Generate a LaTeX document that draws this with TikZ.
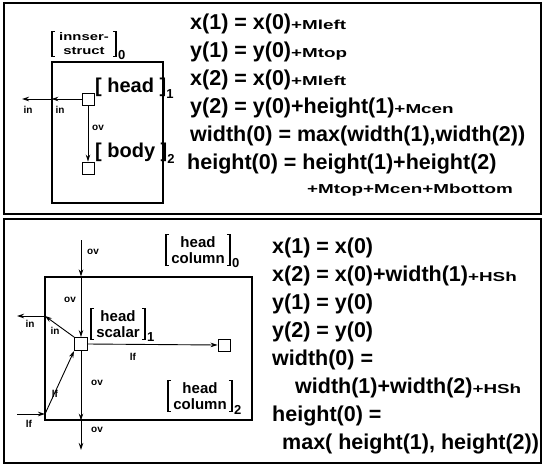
\documentclass[tikz,border=0pt]{standalone}
\usepackage{fontspec}
\setmainfont{Liberation Sans}
\usepackage{graphicx}
\usetikzlibrary{arrows.meta}

% small heavy terms (margins, spacing)
\newcommand{\mterm}[1]{{\fontsize{13}{13}\selectfont\scalebox{1.45}[1]{#1}}}

\tikzset{
  panel/.style={draw, line width=1.6pt},
  frame/.style={draw, line width=1.1pt, inner sep=0pt},
  port/.style={draw, line width=0.9pt, minimum size=12pt, inner sep=0pt},
  flow/.style={-{Stealth[length=7pt,width=4.5pt]}, line width=0.9pt},
  tag/.style={font=\bfseries\fontsize{10}{10}\selectfont, inner sep=0pt},
  eq/.style={anchor=west, inner sep=0pt, font=\bfseries\fontsize{21.5}{21.5}\selectfont},
  lbl/.style={anchor=west, inner sep=0pt, font=\bfseries\fontsize{20}{20}\selectfont},
  idx/.style={anchor=west, inner sep=0pt, font=\bfseries\fontsize{13}{13}\selectfont},
  % two line label between square brackets
  brk/.style={align=center, inner xsep=5pt, inner ysep=1.5pt,
    font=\bfseries\fontsize{15}{16.5}\selectfont,
    append after command={\pgfextra{\draw[line width=1.5pt]
      ([xshift=3pt]\tikzlastnode.north west) -| (\tikzlastnode.south west) -- ++(3pt,0)
      ([xshift=-3pt]\tikzlastnode.north east) -| (\tikzlastnode.south east) -- ++(-3pt,0);}}},
}

\begin{document}
\begin{tikzpicture}[x=1pt, y=-1pt]
\useasboundingbox (0,0) rectangle (544,467);

% panels
\draw[panel] (4,3) rectangle (541,214);
\draw[panel] (4,219) rectangle (541,463);

% ---- inner structure ----
\node[brk, inner xsep=7pt, font=\bfseries\fontsize{11}{14}\selectfont] (innerlbl) at (84,44) {\scalebox{1.35}[1]{innser-}\\\scalebox{1.35}[1]{struct}};
\node[idx] (inneridx) at ([xshift=2pt,yshift=2pt]innerlbl.south east) {0};
\node[frame, minimum width=111pt, minimum height=141pt] (inner) at (107.5,132.5) {};
\node[port] (head) at (88,99) {};
\node[port] (body) at (88,168) {};
\node[lbl] (headlbl) at (95,88) {[ head ]\raisebox{-6pt}{\fontsize{13}{13}\selectfont 1}};
\node[lbl] (bodylbl) at (95,153) {[ body ]\raisebox{-6pt}{\fontsize{13}{13}\selectfont 2}};
\coordinate (inend) at (22,99);

\draw[flow] (head.west) -- (head.west -| inner.west);
\draw[flow] (head.west -| inner.west) -- (inend);
\draw[flow] (head) -- (body);

\node[tag] (in1) at (28,110) {in};
\node[tag] (in2) at (60,110) {in};
\node[tag] (ov1) at (98,128) {ov};

\node[eq] (e1) at (190,24) {x(1) = x(0)\mterm{+Mleft}};
\node[eq] (e2) at (190,52) {y(1) = y(0)\mterm{+Mtop}};
\node[eq] (e3) at (190,80) {x(2) = x(0)\mterm{+Mleft}};
\node[eq] (e4) at (190,108) {y(2) = y(0)+height(1)\mterm{+Mcen}};
\node[eq] (e5) at (190,136) {width(0) = max(width(1),width(2))};
\node[eq] (e6) at (187,164) {height(0) = height(1)+height(2)};
\node[eq] (e7) at (307,190) {\mterm{+Mtop+Mcen+Mbottom}};

% ---- horizontal sequence ----
\node[frame, minimum width=207pt, minimum height=143pt] (seq) at (148.5,348.5) {};
\node[port, minimum size=13pt] (scalar) at (81,344) {};
\node[port] (column) at (224,345) {};
\node[brk] (seqlbl) at (198,250) {head\\column};
\node[idx] (seqidx) at ([xshift=2pt,yshift=2pt]seqlbl.south east) {0};
\node[brk] (scalarlbl) at (118,324) {head\\scalar};
\node[idx] (scalaridx) at ([xshift=2pt,yshift=2pt]scalarlbl.south east) {1};
\node[brk] (columnlbl) at (200,396) {head\\column};
\node[idx] (columnidx) at ([xshift=2pt,yshift=2pt]columnlbl.south east) {2};

\coordinate (ovtop) at (81,240);
\coordinate (ovbot) at (81,450);
\coordinate (inport) at (45,316);
\coordinate (inout) at (17,316);
\coordinate (lfin) at (17,414);
\coordinate (lfport) at (45,414);

\draw[flow] (ovtop) -- (ovtop |- seq.north);
\draw[flow] (ovtop |- seq.north) -- (scalar.north);
\draw[flow] (scalar.south) -- (scalar.south |- seq.south);
\draw[flow] (scalar.south |- seq.south) -- (ovbot);
\draw[flow] (scalar.east) -- (column.west);
\draw[flow] (scalar.north west) -- (inport);
\draw[flow] (inport) -- (inout);
\draw[flow] (lfin) -- (lfport);
\draw[flow] (lfport) -- (scalar.south west);

\node[tag] (ov2) at (93,252) {ov};
\node[tag] (ov3) at (70,300) {ov};
\node[tag] (ov4) at (97,383) {ov};
\node[tag] (ov5) at (97,430) {ov};
\node[tag] (lf1) at (133,357) {lf};
\node[tag] (in3) at (30,324) {in};
\node[tag] (in4) at (55,331) {in};
\node[tag] (lf2) at (55,394) {lf};
\node[tag] (lf3) at (29,424) {lf};

\node[eq] (f1) at (272,248) {x(1) = x(0)};
\node[eq] (f2) at (272,276) {x(2) = x(0)+width(1)\mterm{+HSh}};
\node[eq] (f3) at (272,304) {y(1) = y(0)};
\node[eq] (f4) at (272,332) {y(2) = y(0)};
\node[eq] (f5) at (272,360) {width(0) =};
\node[eq] (f6) at (295,388) {width(1)+width(2)\mterm{+HSh}};
\node[eq] (f7) at (272,416) {height(0) =};
\node[eq] (f8) at (282,444) {max( height(1), height(2))};
\end{tikzpicture}
\end{document}
